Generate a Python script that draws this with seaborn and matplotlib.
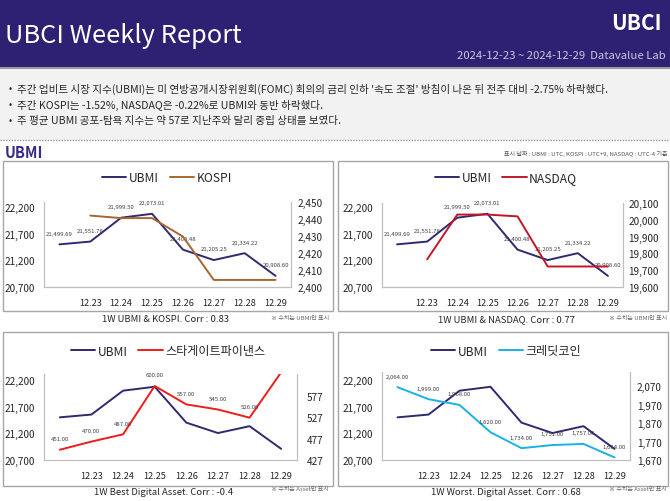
import numpy as np
import matplotlib
matplotlib.use("Agg")
import matplotlib.pyplot as plt
from matplotlib.lines import Line2D
from matplotlib.patches import Rectangle
import seaborn as sns

sns.set_style("white")
plt.rcParams['font.family'] = ['Noto Sans CJK KR', 'DejaVu Sans']

# ---- data ----
day_labels = ['', '12.23', '12.24', '12.25', '12.26', '12.27', '12.28', '12.29']
ubmi = [21499.69, 21551.78, 21999.50, 22073.01, 21400.48, 21205.25, 21334.22, 20908.60]
kospi = [np.nan, 2442.01, 2440.52, 2440.52, 2429.67, 2404.15, 2404.15, 2404.15]
nasdaq = [np.nan, 19764.89, 20031.13, 20031.13, 20020.36, 19722.03, 19722.03, 19722.03]
best_asset = [451.00, 470.00, 487.00, 600.00, 557.00, 545.00, 526.00, 632.00]
worst_asset = [2064.00, 1999.00, 1968.00, 1820.00, 1734.00, 1751.00, 1757.00, 1684.00]

bullets = [
    "주간 업비트 시장 지수(UBMI)는 미 연방공개시장위원회(FOMC) 회의의 금리 인하 '속도 조절' 방침이 나온 뒤 전주 대비 -2.75% 하락했다.",
    "주간 KOSPI는 -1.52%, NASDAQ은 -0.22%로 UBMI와 동반 하락했다.",
    "주 평균 UBMI 공포-탐욕 지수는 약 57로 지난주와 달리 중립 상태를 보였다.",
]

W, H = 670, 502
PURPLE = '#2e2174'
C_UBMI = '#2f2a70'
GRID = '#bfbfbf'
TXT = '#262626'


def box(x0, y0, x1, y1):
    return [x0 / W, 1 - y1 / H, (x1 - x0) / W, (y1 - y0) / H]


def fy(y):
    return 1 - y / H


fig = plt.figure(figsize=(W / 100, H / 100), dpi=100)
fig.patch.set_facecolor('white')

# header band + summary band
fig.patches.append(Rectangle((0, fy(68)), 1, 68 / H, transform=fig.transFigure,
                             color=PURPLE, zorder=0))
fig.patches.append(Rectangle((0, fy(140)), 1, 71 / H, transform=fig.transFigure,
                             color='#f2f2f2', zorder=0))
fig.add_artist(Line2D([0, 1], [fy(69), fy(69)], color='#9a9a9a', lw=1.5))
fig.add_artist(Line2D([0, 1], [fy(141), fy(141)], color='#9a9a9a', lw=1, ls=(0, (1, 1))))

fig.text(5 / W, fy(36), "UBCI Weekly Report", color='white', fontsize=18.3,
         va='center', ha='left')
fig.text(662 / W, fy(24), "UBCI", color='white', fontsize=15, fontweight='bold',
         va='center', ha='right')
fig.text(666 / W, fy(56), "2024-12-23 ~ 2024-12-29  Datavalue Lab", color='#c9c6dc',
         fontsize=8.2, va='center', ha='right')

for i, b in enumerate(bullets):
    y = fy(89 + 16 * i)
    fig.text(9 / W, y, "•", fontsize=7, color=TXT, va='center')
    fig.text(17 / W, y, b, fontsize=7.6, color=TXT, va='center')

fig.text(5 / W, fy(153), "UBMI", color='#3b2a86', fontsize=10.5, fontweight='bold',
         va='center')
fig.text(667 / W, fy(154), "표시 날짜 : UBMI : UTC, KOSPI : UTC+9, NASDAQ : UTC-4 기준",
         color='#555555', fontsize=4.3, ha='right', va='center')

panels = [
    dict(other=kospi, name='KOSPI', color='#a5672f', frame=(3, 162, 333, 312),
         plot=(44, 203, 291, 288), lylim=(20700, 22294), rylim=(2400, 2450),
         rticks=[2400, 2410, 2420, 2430, 2440, 2450], labels=ubmi,
         leg=(167, 179), cap="1W UBMI & KOSPI. Corr : 0.83", cap_xy=(166, 320),
         note="※ 수치는 UBMI만 표시", note_xy=(329, 318), rpad=5),
    dict(other=nasdaq, name='NASDAQ', color='#c0182a', frame=(338, 162, 668, 312),
         plot=(382, 204, 623, 288), lylim=(20700, 22275), rylim=(19600, 20100),
         rticks=[19600, 19700, 19800, 19900, 20000, 20100], labels=ubmi,
         leg=(506, 179), cap="1W UBMI & NASDAQ. Corr : 0.77", cap_xy=(506, 320),
         note="※ 수치는 UBMI만 표시", note_xy=(667, 318), rpad=4),
    dict(other=best_asset, name='스타게이트파이낸스', color='#f01c1c', frame=(3, 333, 333, 487),
         plot=(44, 375, 297, 461), lylim=(20700, 22312), rylim=(427, 628),
         rticks=[427, 477, 527, 577], labels=best_asset,
         leg=(168, 352), cap="1W Best Digital Asset. Corr : -0.4", cap_xy=(164, 493),
         note="※ 수치는 Asset만 표시", note_xy=(329, 490), rpad=7),
    dict(other=worst_asset, name='크레딧코인', color='#19b2e6', frame=(338, 333, 668, 487),
         plot=(382, 373, 630, 461), lylim=(20700, 22350), rylim=(1670, 2146),
         rticks=[1670, 1770, 1870, 1970, 2070], labels=worst_asset,
         leg=(506, 352), cap="1W Worst. Digital Asset. Corr : 0.68", cap_xy=(506, 493),
         note="※ 수치는 Asset만 표시", note_xy=(667, 490), rpad=5),
]

xs = np.arange(len(day_labels))

for p in panels:
    fx0, fy0, fx1, fy1 = p['frame']
    fig.patches.append(Rectangle((fx0 / W, fy(fy1)), (fx1 - fx0) / W, (fy1 - fy0) / H,
                                 transform=fig.transFigure, fill=False,
                                 edgecolor='#a6a6a6', lw=1, zorder=1))

    ax = fig.add_axes(box(*p['plot']))
    ax2 = ax.twinx()
    sns.lineplot(x=xs, y=ubmi, ax=ax, color=C_UBMI, linewidth=1.4)
    sns.lineplot(x=xs, y=p['other'], ax=ax2, color=p['color'], linewidth=1.4)

    ax.set_xlim(-0.5, len(xs) - 0.5)
    ax.set_ylim(*p['lylim'])
    ax2.set_ylim(*p['rylim'])
    ax.set_yticks([20700, 21200, 21700, 22200])
    ax.set_yticklabels([f"{v:,}" for v in [20700, 21200, 21700, 22200]])
    ax2.set_yticks(p['rticks'])
    ax2.set_yticklabels([f"{v:,}" for v in p['rticks']])
    ax.set_xticks(xs)
    ax.set_xticklabels(day_labels)
    ax.set_xlabel('')
    ax.set_ylabel('')
    ax2.set_ylabel('')
    ax.tick_params(axis='x', length=0, pad=8, labelsize=6.6, labelcolor=TXT)
    ax.tick_params(axis='y', length=0, pad=6.5, labelsize=7.2, labelcolor=TXT)
    ax2.tick_params(axis='y', length=0, pad=p['rpad'], labelsize=7.2, labelcolor=TXT)
    for a in (ax, ax2):
        a.patch.set_visible(False)
        a.spines['top'].set_visible(False)
        for s in ('left', 'right', 'bottom'):
            a.spines[s].set_color(GRID)
            a.spines[s].set_linewidth(0.8)

    # data labels
    target = ax if p['labels'] is ubmi else ax2
    for x, v in zip(xs, p['labels']):
        if np.isnan(v) or v > p['rylim'][1] and target is ax2:
            continue
        target.annotate(f"{v:,.2f}", (x, v), xytext=(0, 8), textcoords='offset points',
                        ha='center', va='center', fontsize=4.3, color='#404040')

    handles = [Line2D([], [], color=C_UBMI, lw=1.4), Line2D([], [], color=p['color'], lw=1.4)]
    fig.legend(handles, ['UBMI', p['name']], loc='center',
               bbox_to_anchor=(p['leg'][0] / W, fy(p['leg'][1])), ncol=2, frameon=False,
               fontsize=8.7, handlelength=2.0, handletextpad=0.2, columnspacing=0.9,
               labelcolor=TXT)

    fig.text(p['cap_xy'][0] / W, fy(p['cap_xy'][1]), p['cap'], fontsize=6.8, color=TXT,
             ha='center', va='center')
    fig.text(p['note_xy'][0] / W, fy(p['note_xy'][1]), p['note'], fontsize=4.3,
             color='#666666', ha='right', va='center')

fig.savefig('out.png', dpi=100)
